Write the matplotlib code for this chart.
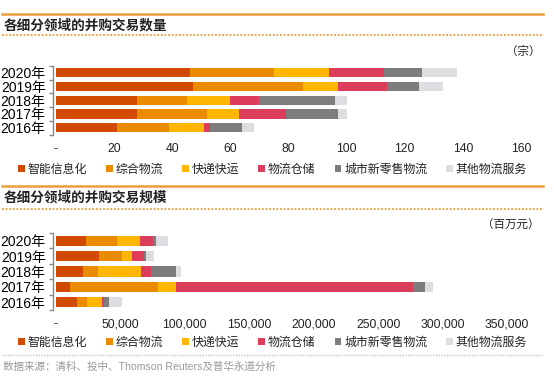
import matplotlib

matplotlib.use("Agg")
import matplotlib.pyplot as plt
from matplotlib.lines import Line2D
from matplotlib.patches import Patch
from matplotlib.ticker import FuncFormatter, FixedLocator

plt.rcParams["font.family"] = ["Liberation Sans", "Noto Sans CJK SC"]

YEARS = ["2020年", "2019年", "2018年", "2017年", "2016年"]
SEGMENTS = ["智能信息化", "综合物流", "快递快运", "物流仓储", "城市新零售物流", "其他物流服务"]
COLORS = ["#d04a02", "#eb8c00", "#ffb600", "#db3d5a", "#7d7d7d", "#dedde1"]

# deal counts (宗), years 2020..2016
cnt_intel = [46, 47, 28, 28, 21]
cnt_integ = [29, 38, 17, 24, 18]
cnt_express = [19, 12, 15, 11, 12]
cnt_storage = [19, 17, 10, 16, 2]
cnt_retail = [13, 11, 26, 18, 11]
cnt_other = [12, 8, 4, 3, 4]

# deal value (百万元), years 2020..2016
val_intel = [23000, 33000, 21000, 11000, 16300]
val_integ = [24000, 18500, 11500, 68400, 7800]
val_express = [18400, 7800, 33500, 13700, 11500]
val_storage = [9700, 9100, 7800, 183900, 1800]
val_retail = [2600, 1200, 19200, 9300, 3800]
val_other = [9200, 6500, 3800, 6500, 9900]

COUNT_TICKS = [0, 20, 40, 60, 80, 100, 120, 140, 160]
VALUE_TICKS = [0, 50000, 100000, 150000, 200000, 250000, 300000, 350000]

W, H = 554, 380
ORANGE = "#e9a03b"
TXT = "#222222"


def px(x, y):
    return x / W, 1 - y / H


def hline(y, color, ls="-", lw=1.8):
    fig.add_artist(Line2D([2 / W, 543 / W], [1 - y / H] * 2, color=color,
                          lw=lw, ls=ls, transform=fig.transFigure))


def stacked(ax, series, ticks, xmax):
    left = [0] * len(YEARS)
    ypos = list(range(len(YEARS)))
    for vals, col in zip(series, COLORS):
        ax.barh(ypos, vals, left=left, height=0.66, color=col, lw=0)
        left = [a + b for a, b in zip(left, vals)]
    ax.set_ylim(4.5, -0.5)
    ax.set_xlim(0, xmax)
    ax.set_yticks(ypos)
    ax.set_yticklabels(YEARS, fontsize=8.6, color=TXT)
    ax.yaxis.set_minor_locator(FixedLocator([-0.5, 0.5, 1.5, 2.5, 3.5, 4.5]))
    ax.tick_params(axis="y", which="major", length=0, pad=5)
    ax.tick_params(axis="y", which="minor", length=3, color="#888888", width=1)
    ax.set_xticks(ticks)
    ax.xaxis.set_major_formatter(
        FuncFormatter(lambda v, p: "-" if v == 0 else f"{v:,.0f}"))
    ax.tick_params(axis="x", length=0, pad=6, labelsize=8.8, labelcolor=TXT)
    for s in ["top", "right", "bottom"]:
        ax.spines[s].set_visible(False)
    ax.spines["left"].set_position(("outward", 2.5))
    ax.spines["left"].set_color("#888888")
    ax.spines["left"].set_linewidth(1)


fig = plt.figure(figsize=(W / 100, H / 100), dpi=100)

# top panel: number of deals
x0, y0 = px(56, 134.6)
ax1 = fig.add_axes([x0, y0, 465 / W, 68.8 / H])
stacked(ax1, [cnt_intel, cnt_integ, cnt_express, cnt_storage, cnt_retail, cnt_other],
        COUNT_TICKS, 160)

# bottom panel: deal value
x0, y0 = px(56, 310)
ax2 = fig.add_axes([x0, y0, 451 / W, 77 / H])
stacked(ax2, [val_intel, val_integ, val_express, val_storage, val_retail, val_other],
        VALUE_TICKS, 350000)

hline(13.5, ORANGE)
hline(35, ORANGE, ls=(0, (1, 1)), lw=1.3)
hline(185.5, ORANGE)
hline(209, ORANGE, ls=(0, (1, 1)), lw=1.3)
hline(355, "#c8c8c8", ls=(0, (1, 1)), lw=1.0)

for ty, title in ((25, "各细分领域的并购交易数量"), (198, "各细分领域的并购交易规模")):
    fig.text(*px(4, ty), title, fontsize=9.8, fontweight="bold",
             family=["Noto Sans CJK SC"], color=TXT, va="center", ha="left")
fig.text(*px(540, 52), "（宗）", fontsize=8.3, color=TXT, va="center", ha="right")
fig.text(*px(540, 226), "（百万元）", fontsize=8.3, color=TXT, va="center", ha="right")
fig.text(*px(3, 367), "数据来源：清科、投中、Thomson Reuters及普华永道分析",
         fontsize=7.6, color="#999999", va="center", ha="left")

handles = [Patch(facecolor=c, edgecolor="none", label=s) for s, c in zip(SEGMENTS, COLORS)]
for yl in (170, 343):
    fig.legend(handles=handles, ncol=6, loc="center left",
               bbox_to_anchor=px(18, yl), frameon=False, fontsize=8.6,
               handlelength=0.55, handleheight=0.55, handletextpad=0.25,
               columnspacing=1.6, borderpad=0, borderaxespad=0,
               labelcolor=TXT)

fig.savefig("out.png", dpi=100, facecolor="white")
